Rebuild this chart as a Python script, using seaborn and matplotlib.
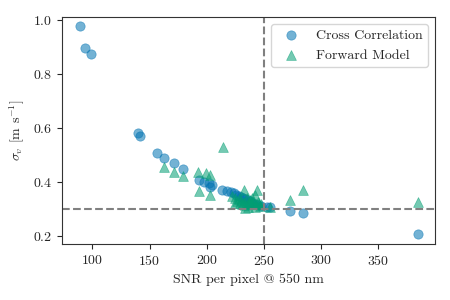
import matplotlib
matplotlib.use("Agg")
import matplotlib.pyplot as plt
import seaborn as sns
import pandas as pd

cc_snr = [88.9, 93.9, 99.1, 139.6, 142.0, 156.5, 162.9, 171.7, 178.9, 192.9, 197.3,
          201.7, 203.1, 204.6, 213.4, 217.7, 221, 224, 226, 228, 230, 232, 234, 236,
          238, 240, 242, 245, 248, 252.7, 255.6, 273, 284, 385]
cc_sigma = [0.975, 0.895, 0.873, 0.581, 0.567, 0.505, 0.486, 0.468, 0.445, 0.406, 0.400,
            0.394, 0.381, 0.387, 0.369, 0.365, 0.360, 0.356, 0.350, 0.346, 0.343, 0.339,
            0.335, 0.331, 0.327, 0.322, 0.318, 0.313, 0.309, 0.307, 0.305, 0.291, 0.283, 0.206]

fm_snr = [162.3, 171.0, 178.9, 192.3, 199.4, 203.1, 213.9, 192.9, 203.1, 222, 225, 228,
          230, 232.3, 233, 235, 236, 238, 240, 242.5, 244, 242.5, 245, 247, 233.7, 225,
          255.6, 273, 284, 385, 229, 231, 234, 237, 239, 241, 243, 246, 227, 236, 240, 248]
fm_sigma = [0.455, 0.437, 0.421, 0.434, 0.431, 0.424, 0.529, 0.365, 0.352, 0.345, 0.340,
            0.335, 0.330, 0.369, 0.325, 0.340, 0.320, 0.330, 0.315, 0.350, 0.369, 0.307,
            0.325, 0.310, 0.301, 0.320, 0.305, 0.332, 0.369, 0.323, 0.322, 0.315, 0.312,
            0.318, 0.322, 0.326, 0.318, 0.315, 0.328, 0.306, 0.338, 0.318]

labels = ["Cross Correlation", "Forward Model"]
snr_cut = 250
sigma_cut = 0.3

sns.set_theme(style="ticks")
plt.rcParams.update({
    "font.family": "serif",
    "font.serif": ["cmr10"],
    "mathtext.fontset": "cm",
    "axes.unicode_minus": False,
    "axes.formatter.use_mathtext": True,
    "font.size": 10,
})

pal = sns.color_palette("colorblind")
fig = plt.figure(figsize=(4.5, 3), dpi=100)
ax = fig.add_axes([0.138, 0.186, 0.829, 0.758])

df_cc = pd.DataFrame({"snr": cc_snr, "sigma": cc_sigma})
df_fm = pd.DataFrame({"snr": fm_snr, "sigma": fm_sigma})
sns.scatterplot(data=df_cc, x="snr", y="sigma", ax=ax, color=pal[0], marker="o",
                s=45, alpha=0.55, linewidth=0.5, edgecolor=pal[0], label=labels[0])
sns.scatterplot(data=df_fm, x="snr", y="sigma", ax=ax, color=pal[2], marker="^",
                s=50, alpha=0.55, linewidth=0.5, edgecolor=pal[2], label=labels[1])

ax.axvline(snr_cut, color="gray", ls="--", lw=1.5)
ax.axhline(sigma_cut, color="gray", ls="--", lw=1.5)

ax.set_xlim(73.5, 400)
ax.set_ylim(0.168, 1.01)
ax.set_xticks([100, 150, 200, 250, 300, 350])
ax.set_yticks([0.2, 0.4, 0.6, 0.8, 1.0])
ax.set_xlabel("SNR per pixel @ 550 nm", fontsize=10)
ax.set_ylabel(r"$\sigma_v$ [m s$^{-1}$]", fontsize=10)
ax.tick_params(labelsize=10, length=3.5, width=0.8)
for sp in ax.spines.values():
    sp.set_linewidth(0.8)
    sp.set_color("#333333")
ax.legend(loc="upper right", fontsize=10, frameon=True)

fig.savefig("out.png", dpi=100)
